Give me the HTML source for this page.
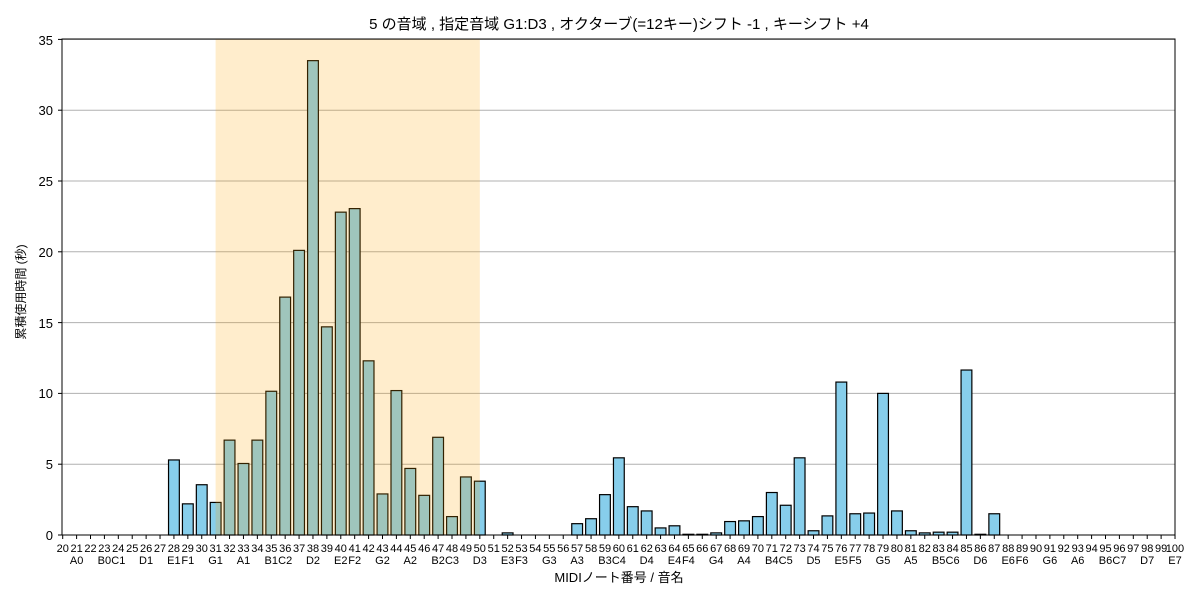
<!DOCTYPE html>
<html><head><meta charset="utf-8"><style>
html,body{margin:0;padding:0;background:#fff;width:1200px;height:600px;overflow:hidden}
svg text{font-family:"Liberation Sans","Noto Sans CJK JP",sans-serif;fill:#000}
.t{font-size:11px;text-anchor:middle}
</style></head><body>
<svg id="s" width="1200" height="600" xmlns="http://www.w3.org/2000/svg">
<text x="619" y="29" style="font-size:15px;text-anchor:middle">5 の音域 , 指定音域 G1:D3 , オクターブ(=12キー)シフト -1 , キーシフト +4</text>
<g stroke="#b0b0b0" stroke-width="1">
<line x1="62" x2="1175" y1="464.2" y2="464.2"/><line x1="62" x2="1175" y1="393.4" y2="393.4"/>
<line x1="62" x2="1175" y1="322.6" y2="322.6"/><line x1="62" x2="1175" y1="251.8" y2="251.8"/>
<line x1="62" x2="1175" y1="181" y2="181"/><line x1="62" x2="1175" y1="110.2" y2="110.2"/>
<line x1="62" x2="1175" y1="39.4" y2="39.4"/>
</g>
<g id="bars"></g>
<rect x="215.6" y="39" width="264.2" height="496" fill="rgb(255,165,0)" fill-opacity="0.2"/>
<rect x="62" y="39" width="1113" height="496" fill="none" stroke="#000" stroke-width="1"/>
<g style="font-size:13px;text-anchor:end">
<text x="53" y="540">0</text><text x="53" y="469">5</text><text x="53" y="398">10</text>
<text x="53" y="328">15</text><text x="53" y="257">20</text><text x="53" y="186">25</text>
<text x="53" y="115">30</text><text x="53" y="45">35</text>
</g>
<g stroke="#000"><line x1="58" x2="62" y1="535" y2="535"/><line x1="58" x2="62" y1="464.2" y2="464.2"/><line x1="58" x2="62" y1="393.4" y2="393.4"/><line x1="58" x2="62" y1="322.6" y2="322.6"/><line x1="58" x2="62" y1="251.8" y2="251.8"/><line x1="58" x2="62" y1="181" y2="181"/><line x1="58" x2="62" y1="110.2" y2="110.2"/><line x1="58" x2="62" y1="39.4" y2="39.4"/></g>
<g id="xt"></g>
<text transform="translate(25,292) rotate(-90)" style="font-size:12px;text-anchor:middle">累積使用時間 (秒)</text>
<text x="619" y="582" style="font-size:13px;text-anchor:middle">MIDIノート番号 / 音名</text>
<g transform="translate(62.7,0)" class="t">
<text class="t" x="0" y="552">20</text><text class="t" x="13.9" y="552">21</text><text class="t" x="27.8" y="552">22</text><text class="t" x="41.7" y="552">23</text><text class="t" x="55.6" y="552">24</text><text class="t" x="69.5" y="552">25</text><text class="t" x="83.4" y="552">26</text><text class="t" x="97.3" y="552">27</text><text class="t" x="111.2" y="552">28</text><text class="t" x="125.1" y="552">29</text><text class="t" x="139" y="552">30</text><text class="t" x="152.9" y="552">31</text><text class="t" x="166.8" y="552">32</text><text class="t" x="180.8" y="552">33</text><text class="t" x="194.7" y="552">34</text><text class="t" x="208.6" y="552">35</text><text class="t" x="222.5" y="552">36</text><text class="t" x="236.4" y="552">37</text><text class="t" x="250.3" y="552">38</text><text class="t" x="264.2" y="552">39</text><text class="t" x="278.1" y="552">40</text><text class="t" x="292" y="552">41</text><text class="t" x="305.9" y="552">42</text><text class="t" x="319.8" y="552">43</text><text class="t" x="333.7" y="552">44</text><text class="t" x="347.6" y="552">45</text><text class="t" x="361.5" y="552">46</text><text class="t" x="375.4" y="552">47</text><text class="t" x="389.3" y="552">48</text><text class="t" x="403.2" y="552">49</text><text class="t" x="417.1" y="552">50</text><text class="t" x="431" y="552">51</text><text class="t" x="444.9" y="552">52</text><text class="t" x="458.8" y="552">53</text><text class="t" x="472.7" y="552">54</text><text class="t" x="486.6" y="552">55</text><text class="t" x="500.5" y="552">56</text><text class="t" x="514.4" y="552">57</text><text class="t" x="528.4" y="552">58</text><text class="t" x="542.3" y="552">59</text><text class="t" x="556.2" y="552">60</text><text class="t" x="570.1" y="552">61</text><text class="t" x="584" y="552">62</text><text class="t" x="597.9" y="552">63</text><text class="t" x="611.8" y="552">64</text><text class="t" x="625.7" y="552">65</text><text class="t" x="639.6" y="552">66</text><text class="t" x="653.5" y="552">67</text><text class="t" x="667.4" y="552">68</text><text class="t" x="681.3" y="552">69</text><text class="t" x="695.2" y="552">70</text><text class="t" x="709.1" y="552">71</text><text class="t" x="723" y="552">72</text><text class="t" x="736.9" y="552">73</text><text class="t" x="750.8" y="552">74</text><text class="t" x="764.7" y="552">75</text><text class="t" x="778.6" y="552">76</text><text class="t" x="792.5" y="552">77</text><text class="t" x="806.4" y="552">78</text><text class="t" x="820.3" y="552">79</text><text class="t" x="834.2" y="552">80</text><text class="t" x="848.1" y="552">81</text><text class="t" x="862" y="552">82</text><text class="t" x="875.9" y="552">83</text><text class="t" x="889.9" y="552">84</text><text class="t" x="903.8" y="552">85</text><text class="t" x="917.7" y="552">86</text><text class="t" x="931.6" y="552">87</text><text class="t" x="945.5" y="552">88</text><text class="t" x="959.4" y="552">89</text><text class="t" x="973.3" y="552">90</text><text class="t" x="987.2" y="552">91</text><text class="t" x="1001.1" y="552">92</text><text class="t" x="1015" y="552">93</text><text class="t" x="1028.9" y="552">94</text><text class="t" x="1042.8" y="552">95</text><text class="t" x="1056.7" y="552">96</text><text class="t" x="1070.6" y="552">97</text><text class="t" x="1084.5" y="552">98</text><text class="t" x="1098.4" y="552">99</text><text class="t" x="1112.3" y="552">100</text>
<text class="t" x="13.9" y="564">A0</text><text class="t" x="41.7" y="564">B0</text><text class="t" x="55.6" y="564">C1</text><text class="t" x="83.4" y="564">D1</text><text class="t" x="111.2" y="564">E1</text><text class="t" x="125.1" y="564">F1</text><text class="t" x="152.9" y="564">G1</text><text class="t" x="180.8" y="564">A1</text><text class="t" x="208.6" y="564">B1</text><text class="t" x="222.5" y="564">C2</text><text class="t" x="250.3" y="564">D2</text><text class="t" x="278.1" y="564">E2</text><text class="t" x="292" y="564">F2</text><text class="t" x="319.8" y="564">G2</text><text class="t" x="347.6" y="564">A2</text><text class="t" x="375.4" y="564">B2</text><text class="t" x="389.3" y="564">C3</text><text class="t" x="417.1" y="564">D3</text><text class="t" x="444.9" y="564">E3</text><text class="t" x="458.8" y="564">F3</text><text class="t" x="486.6" y="564">G3</text><text class="t" x="514.4" y="564">A3</text><text class="t" x="542.3" y="564">B3</text><text class="t" x="556.2" y="564">C4</text><text class="t" x="584" y="564">D4</text><text class="t" x="611.8" y="564">E4</text><text class="t" x="625.7" y="564">F4</text><text class="t" x="653.5" y="564">G4</text><text class="t" x="681.3" y="564">A4</text><text class="t" x="709.1" y="564">B4</text><text class="t" x="723" y="564">C5</text><text class="t" x="750.8" y="564">D5</text><text class="t" x="778.6" y="564">E5</text><text class="t" x="792.5" y="564">F5</text><text class="t" x="820.3" y="564">G5</text><text class="t" x="848.1" y="564">A5</text><text class="t" x="875.9" y="564">B5</text><text class="t" x="889.9" y="564">C6</text><text class="t" x="917.7" y="564">D6</text><text class="t" x="945.5" y="564">E6</text><text class="t" x="959.4" y="564">F6</text><text class="t" x="987.2" y="564">G6</text><text class="t" x="1015" y="564">A6</text><text class="t" x="1042.8" y="564">B6</text><text class="t" x="1056.7" y="564">C7</text><text class="t" x="1084.5" y="564">D7</text><text class="t" x="1112.3" y="564">E7</text>
</g>
</svg>
<script>
var v={28:5.3,29:2.2,30:3.55,31:2.3,32:6.7,33:5.05,34:6.7,35:10.15,36:16.8,37:20.1,38:33.5,39:14.7,40:22.8,41:23.05,42:12.3,43:2.9,44:10.2,45:4.7,46:2.8,47:6.9,48:1.3,49:4.1,50:3.8,52:0.15,57:0.8,58:1.15,59:2.85,60:5.45,61:2.0,62:1.7,63:0.5,64:0.65,65:0.05,66:0.05,67:0.15,68:0.95,69:1.0,70:1.3,71:3.0,72:2.1,73:5.45,74:0.3,75:1.35,76:10.8,77:1.5,78:1.55,79:10.0,80:1.7,81:0.3,82:0.15,83:0.2,84:0.2,85:11.65,86:0.05,87:1.5};
var b='',t='';
for(var n=20;n<=100;n++){var x=62.7+(n-20)*13.904;var h=(v[n]||0)*14.16;
b+='<rect x="'+(x-5.4)+'" y="'+(535-h)+'" width="10.8" height="'+h+'" fill="#87ceeb" stroke="#000" stroke-width="1.2"/>';
t+='<line x1="'+x+'" x2="'+x+'" y1="535" y2="539" stroke="#000"/>';}
document.getElementById('bars').innerHTML=b;document.getElementById('xt').innerHTML=t;
</script>
</body></html>
